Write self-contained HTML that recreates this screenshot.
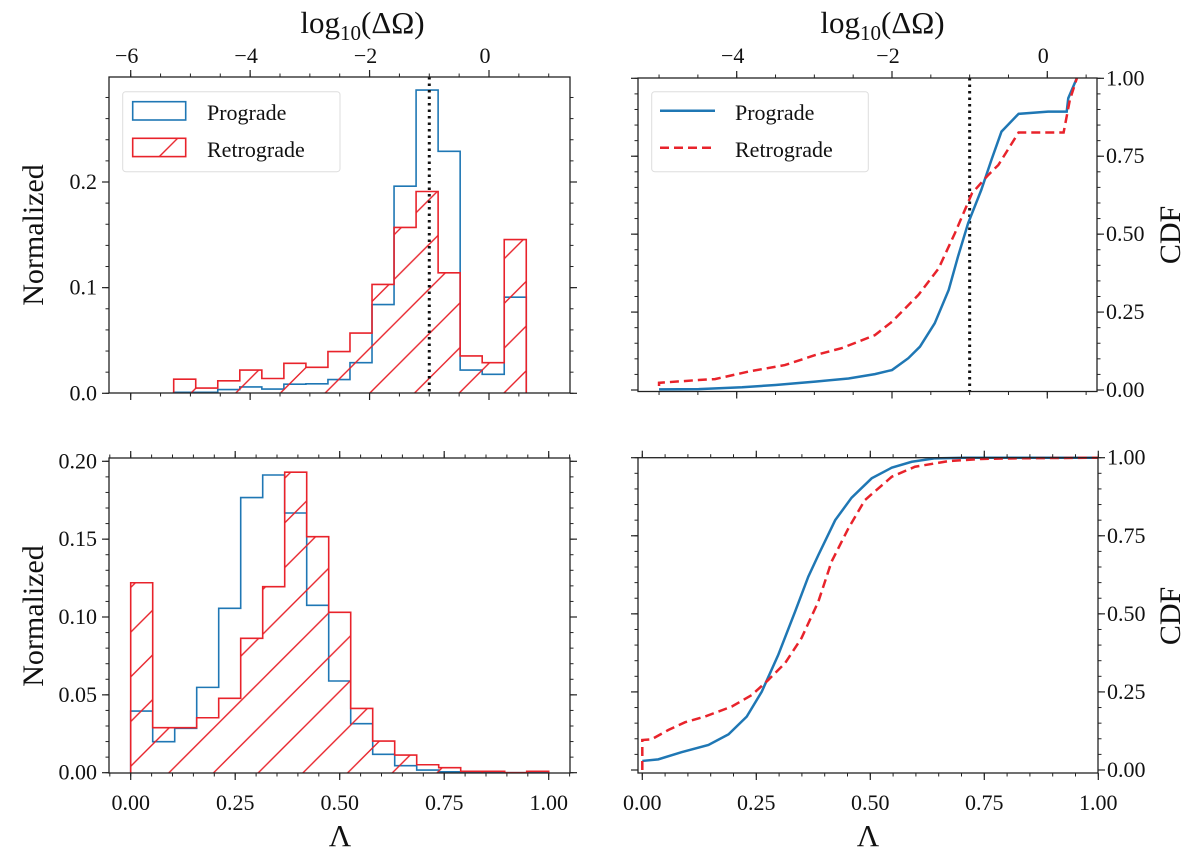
<!DOCTYPE html>
<html><head><meta charset="utf-8"><style>
body{margin:0;background:#fff}
svg{display:block}
text{font-family:"Liberation Serif",serif;fill:#111}
</style></head><body>
<svg id="fig" width="1200" height="849" viewBox="0 0 1200 849">
<defs>
<pattern id="hatch" patternUnits="userSpaceOnUse" width="44.7" height="44.7" x="0" y="3">
<path d="M-11.2,11.2 L11.2,-11.2 M0,44.7 L44.7,0 M33.5,55.9 L55.9,33.5" stroke="#e8232b" stroke-width="1.4"/>
</pattern>
</defs>
</svg>
<script>
// ---- data ----
const topEdgeStart = -5.28, topBinWidth = 0.369;
const topPrograde = [0.001,0.001,0.0035,0.006,0.004,0.0086,0.009,0.013,0.029,0.084,0.196,0.287,0.229,0.022,0.018,0.091];
const topRetrograde = [0.0134,0.005,0.0118,0.022,0.014,0.0284,0.0246,0.0395,0.057,0.103,0.157,0.191,0.114,0.0354,0.029,0.1455];
const botBinWidth = 1/19;
const botPrograde = [0.0396,0.0199,0.0285,0.0548,0.1056,0.1767,0.1912,0.1668,0.1075,0.0589,0.0315,0.0118,0.0045,0.0017,0.0006,0.0002,0,0,0];
const botRetrograde = [0.122,0.0289,0.0289,0.0353,0.0478,0.0863,0.1195,0.193,0.1516,0.103,0.0413,0.0203,0.0113,0.0051,0.0032,0.0009,0.0009,0,0.0009];
const cdfTopProX = [-5.0,-4.49,-3.93,-3.5,-2.99,-2.56,-2.22,-2.0,-1.79,-1.64,-1.45,-1.27,-1.15,-1.02,-0.85,-0.72,-0.59,-0.37,0.01,0.25,0.27,0.38];
const cdfTopProY = [0.002,0.003,0.009,0.016,0.027,0.037,0.051,0.064,0.102,0.139,0.214,0.321,0.428,0.535,0.642,0.738,0.829,0.886,0.893,0.893,0.936,1.0];
const cdfTopRetX = [-5.0,-5.0,-4.49,-4.28,-3.85,-3.38,-2.99,-2.65,-2.22,-2.0,-1.66,-1.4,-1.19,-0.97,-0.76,-0.63,-0.37,0.21,0.29,0.38];
const cdfTopRetY = [0.013,0.023,0.032,0.035,0.059,0.08,0.112,0.134,0.176,0.219,0.305,0.39,0.503,0.631,0.69,0.722,0.826,0.826,0.93,1.0];
const cdfBotProX = [0,0.035,0.086,0.145,0.189,0.229,0.262,0.298,0.335,0.364,0.386,0.423,0.459,0.503,0.547,0.591,0.642,0.708,1.0];
const cdfBotProY = [0.029,0.034,0.057,0.08,0.114,0.171,0.251,0.368,0.507,0.619,0.688,0.8,0.872,0.934,0.968,0.987,0.998,1.0,1.0];
const cdfBotRetX = [0,0,0.02,0.057,0.094,0.137,0.196,0.24,0.276,0.313,0.349,0.386,0.415,0.452,0.488,0.547,0.598,0.671,0.744,0.817,1.0];
const cdfBotRetY = [0,0.096,0.098,0.128,0.153,0.171,0.203,0.24,0.288,0.342,0.422,0.539,0.667,0.774,0.864,0.939,0.971,0.989,0.996,0.998,1.0];
const vline = -1;
const logTicks = [-6,-4,-2,0];
const logTickLabels = ["\u22126","\u22124","\u22122","0"];
const lamTicks = [0,0.25,0.5,0.75,1];
const lamTickLabels = ["0.00","0.25","0.50","0.75","1.00"];
const normTopTicks = [0,0.1,0.2];
const normTopLabels = ["0.0","0.1","0.2"];
const normBotTicks = [0,0.05,0.1,0.15,0.2];
const normBotLabels = ["0.00","0.05","0.10","0.15","0.20"];
const cdfTicks = [0,0.25,0.5,0.75,1];
const cdfLabels = ["0.00","0.25","0.50","0.75","1.00"];

const NS="http://www.w3.org/2000/svg";
const svg=document.getElementById('fig');
const BLUE="#1f77b4", RED="#e8232b";
function mk(tag,attrs,parent){const e=document.createElementNS(NS,tag);for(const k in attrs)e.setAttribute(k,attrs[k]);(parent||svg).appendChild(e);return e;}
function lin(d0,d1,p0,p1){return v=>p0+(v-d0)*(p1-p0)/(d1-d0);}

// panel geometry
const P={
 tl:{x0:109,x1:570,y0:77,y1:393,sx:lin(-6,0,130.7,489),sy:lin(0,0.2,393.3,182)},
 tr:{x0:638,x1:1097,y0:78,y1:391.5,sx:lin(-4,0,736.7,1047.3),sy:lin(0,1,390,78.3)},
 bl:{x0:109,x1:570,y0:458,y1:773,sx:lin(0,1,130.7,548.7),sy:lin(0,0.2,772.7,461.3)},
 br:{x0:638,x1:1098,y0:457.7,y1:773,sx:lin(0,1,642.3,1098.3),sy:lin(0,1,770,457.7)}
};

function ticksX(p,y,dir,majors,minorStep,minorFrom,minorTo,g){
  for(let v=minorFrom;v<=minorTo+1e-9;v+=minorStep){const x=p.sx(v);if(x<p.x0-0.5||x>p.x1+0.5)continue;
    mk('line',{x1:x,x2:x,y1:y,y2:y+dir*3.5,stroke:'#222','stroke-width':1},g);}
  majors.forEach(v=>{const x=p.sx(v);if(x<p.x0-0.5||x>p.x1+0.5)return;mk('line',{x1:x,x2:x,y1:y,y2:y+dir*7,stroke:'#222','stroke-width':1.2},g);});
}
function ticksY(p,x,dir,majors,minorStep,minorFrom,minorTo,g){
  for(let v=minorFrom;v<=minorTo+1e-9;v+=minorStep){const y=p.sy(v);if(y<p.y0-0.5||y>p.y1+0.5)continue;
    mk('line',{x1:x,x2:x+dir*3.5,y1:y,y2:y,stroke:'#222','stroke-width':1},g);}
  majors.forEach(v=>{const y=p.sy(v);if(y<p.y0-0.5||y>p.y1+0.5)return;mk('line',{x1:x,x2:x+dir*7,y1:y,y2:y,stroke:'#222','stroke-width':1.2},g);});
}
function frame(p,g){mk('rect',{x:p.x0,y:p.y0,width:p.x1-p.x0,height:p.y1-p.y0,fill:'none',stroke:'#222','stroke-width':1.3},g);}
function txt(s,x,y,size,anchor,g,name){const t=mk('text',{x:x,y:y,'font-size':size,'text-anchor':anchor||'middle'},g);t.textContent=s;return t;}

function histPath(p,start,w,vals){
  let d=`M${p.sx(start)},${p.sy(0)}`;
  vals.forEach((v,i)=>{const xa=p.sx(start+i*w),xb=p.sx(start+(i+1)*w),y=p.sy(v);d+=` L${xa},${y} L${xb},${y}`;});
  d+=` L${p.sx(start+vals.length*w)},${p.sy(0)}`;return d;
}
function linePath(p,xs,ys){return xs.map((x,i)=>(i?'L':'M')+p.sx(x)+','+p.sy(ys[i])).join(' ');}

// ----- Top-left -----
(function(){
 const p=P.tl;const g=mk('g',{});
 const b=mk('path',{d:histPath(p,topEdgeStart,topBinWidth,topPrograde),fill:'none',stroke:BLUE,'stroke-width':1.6},g);
 
 const r=mk('path',{d:histPath(p,topEdgeStart,topBinWidth,topRetrograde),fill:'url(#hatch)',stroke:RED,'stroke-width':1.6},g);
 
 const vl=mk('line',{x1:p.sx(vline),x2:p.sx(vline),y1:p.y0,y2:p.y1,stroke:'#111','stroke-width':3,'stroke-dasharray':'2.5,4'},g);
 
 frame(p,g);
 ticksX(p,p.y0,-1,logTicks,0.5,-7,2,g);ticksX(p,p.y1,1,logTicks,0.5,-7,2,g);
 ticksY(p,p.x0,-1,normTopTicks,0.02,0,0.3,g);ticksY(p,p.x1,1,normTopTicks,0.02,0,0.3,g);
 logTicks.forEach((v,i)=>txt(logTickLabels[i],p.sx(v)-4,63,22,'middle',g,'top-x-tick-label'));
 normTopTicks.forEach((v,i)=>txt(normTopLabels[i],p.x0-12,p.sy(v)+7,22,'end',g,'y-tick-label'));
 const t=txt('log',340,33,31,'end',g,'top-x-axis-title');
 const t2=mk('text',{x:340,y:33,'font-size':31,'text-anchor':'start'},g);
 t2.innerHTML='<tspan font-size="21" dy="7">10</tspan><tspan dy="-7">(ΔΩ)</tspan>';
 const ny=txt('Normalized',0,0,30,'middle',g,'y-axis-title');ny.setAttribute('transform','translate(43,235) rotate(-90)');
 // legend
 const lg=mk('g',{},g);
 mk('rect',{x:122.7,y:91.7,width:217.3,height:80,rx:3,fill:'#fff','fill-opacity':0.8,stroke:'#ddd'},lg);
 mk('rect',{x:132.7,y:101.7,width:53,height:18.3,fill:'none',stroke:BLUE,'stroke-width':1.6},lg);
 mk('rect',{x:132.7,y:138.3,width:53,height:18.3,fill:'url(#hatch)',stroke:RED,'stroke-width':1.6},lg);
 txt('Prograde',207,120,22,'start',lg,'legend-prograde');
 txt('Retrograde',207,157,22,'start',lg,'legend-retrograde');
})();

// ----- Top-right -----
(function(){
 const p=P.tr;const g=mk('g',{});
 const vl=mk('line',{x1:p.sx(vline),x2:p.sx(vline),y1:p.y0,y2:p.y1,stroke:'#111','stroke-width':3,'stroke-dasharray':'2.5,4'},g);
 
 const b=mk('path',{d:linePath(p,cdfTopProX,cdfTopProY),fill:'none',stroke:BLUE,'stroke-width':2.5},g);
 
 const r=mk('path',{d:linePath(p,cdfTopRetX,cdfTopRetY),fill:'none',stroke:RED,'stroke-width':2.5,'stroke-dasharray':'9,5'},g);
 
 frame(p,g);
 ticksX(p,p.y0,-1,logTicks,0.5,-7,2,g);ticksX(p,p.y1,1,logTicks,0.5,-7,2,g);
 ticksY(p,p.x0,-1,cdfTicks,0.05,0,1,g);ticksY(p,p.x1,1,cdfTicks,0.05,0,1,g);
 logTicks.forEach((v,i)=>{if(p.sx(v)>=p.x0)txt(logTickLabels[i],p.sx(v)-4,63,22,'middle',g,'top-x-tick-label');});
 cdfTicks.forEach((v,i)=>txt(cdfLabels[i],p.x1+9,p.sy(v)+7,22,'start',g,'cdf-tick-label'));
 txt('log',860,33,31,'end',g,'top-x-axis-title');
 const t2=mk('text',{x:860,y:33,'font-size':31,'text-anchor':'start'},g);
 t2.innerHTML='<tspan font-size="21" dy="7">10</tspan><tspan dy="-7">(ΔΩ)</tspan>';
 const cy=txt('CDF',0,0,30,'middle',g,'cdf-axis-title');cy.setAttribute('transform','translate(1180,235) rotate(-90)');
 const lg=mk('g',{},g);
 mk('rect',{x:651.7,y:91.7,width:216.6,height:80,rx:3,fill:'#fff','fill-opacity':0.8,stroke:'#ddd'},lg);
 mk('line',{x1:660,x2:715,y1:110.7,y2:110.7,stroke:BLUE,'stroke-width':2.5},lg);
 mk('line',{x1:660,x2:715,y1:147.7,y2:147.7,stroke:RED,'stroke-width':2.5,'stroke-dasharray':'9,5'},lg);
 txt('Prograde',735,120,22,'start',lg,'legend-prograde');
 txt('Retrograde',735,157,22,'start',lg,'legend-retrograde');
})();

// ----- Bottom-left -----
(function(){
 const p=P.bl;const g=mk('g',{});
 const b=mk('path',{d:histPath(p,0,botBinWidth,botPrograde),fill:'none',stroke:BLUE,'stroke-width':1.6},g);
 
 const r=mk('path',{d:histPath(p,0,botBinWidth,botRetrograde),fill:'url(#hatch)',stroke:RED,'stroke-width':1.6},g);
 
 frame(p,g);
 ticksX(p,p.y0,-1,lamTicks,0.05,-0.1,1.1,g);ticksX(p,p.y1,1,lamTicks,0.05,-0.1,1.1,g);
 ticksY(p,p.x0,-1,normBotTicks,0.01,0,0.21,g);ticksY(p,p.x1,1,normBotTicks,0.01,0,0.21,g);
 lamTicks.forEach((v,i)=>txt(lamTickLabels[i],p.sx(v),810,22,'middle',g,'x-tick-label'));
 normBotTicks.forEach((v,i)=>txt(normBotLabels[i],p.x0-12,p.sy(v)+7,22,'end',g,'y-tick-label'));
 txt('Λ',340,846,31,'middle',g,'x-axis-title');
 const ny=txt('Normalized',0,0,30,'middle',g,'y-axis-title');ny.setAttribute('transform','translate(43,616) rotate(-90)');
})();

// ----- Bottom-right -----
(function(){
 const p=P.br;const g=mk('g',{});
 const b=mk('path',{d:linePath(p,cdfBotProX,cdfBotProY),fill:'none',stroke:BLUE,'stroke-width':2.5},g);
 
 const r=mk('path',{d:linePath(p,cdfBotRetX,cdfBotRetY),fill:'none',stroke:RED,'stroke-width':2.5,'stroke-dasharray':'9,5'},g);
 
 frame(p,g);
 ticksX(p,p.y0,-1,lamTicks,0.05,-0.1,1.1,g);ticksX(p,p.y1,1,lamTicks,0.05,-0.1,1.1,g);
 ticksY(p,p.x0,-1,cdfTicks,0.05,0,1,g);ticksY(p,p.x1,1,cdfTicks,0.05,0,1,g);
 lamTicks.forEach((v,i)=>txt(lamTickLabels[i],p.sx(v),810,22,'middle',g,'x-tick-label'));
 cdfTicks.forEach((v,i)=>txt(cdfLabels[i],p.x1+9,p.sy(v)+7,22,'start',g,'cdf-tick-label'));
 txt('Λ',868,846,31,'middle',g,'x-axis-title');
 const cy=txt('CDF',0,0,30,'middle',g,'cdf-axis-title');cy.setAttribute('transform','translate(1180,616) rotate(-90)');
})();
</script>
</body></html>
